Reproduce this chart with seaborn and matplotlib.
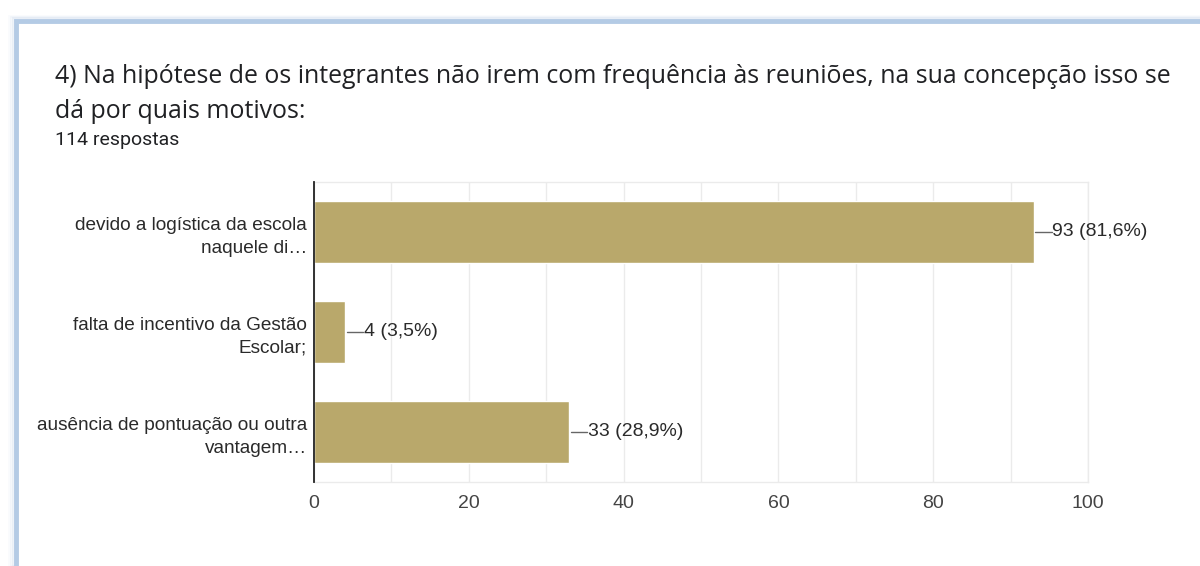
import matplotlib
matplotlib.use("Agg")
import matplotlib.pyplot as plt
from matplotlib.patches import Rectangle
from matplotlib.ticker import MultipleLocator
import seaborn as sns

categories = [
    "devido a logística da escola\nnaquele di…",
    "falta de incentivo da Gestão\nEscolar;",
    "ausência de pontuação ou outra\nvantagem…",
]
values = [93, 4, 33]
total_respostas = 114
x_ticks = [0, 20, 40, 60, 80, 100]

title = "4) Na hipótese de os integrantes não irem com frequência às reuniões, na sua concepção isso se\ndá por quais motivos:"
subtitle = "114 respostas"

sns.set_theme(style="white")
plt.rcParams["font.family"] = ["Liberation Sans", "DejaVu Sans"]

fig = plt.figure(figsize=(12, 5.66), dpi=100)

# card frame with soft shadow
for i, a in enumerate([0.10, 0.18, 0.30]):
    off = (3 - i) * 0.0025
    fig.patches.append(Rectangle((0.012 - off * 0.6, 0.0), 1.2, 0.965 + off,
                                 transform=fig.transFigure, facecolor="none",
                                 edgecolor="#c9d9ec", alpha=a, lw=2, zorder=-20))
fig.patches.append(Rectangle((0.0135, -0.05), 1.2, 1.013,
                             transform=fig.transFigure, facecolor="white",
                             edgecolor="#b4cbe5", lw=3.5, zorder=-10))

fig.text(55 / 1200, 1 - 64 / 566, title, fontsize=17.9, color="#202124",
         family=["Open Sans", "DejaVu Sans"], va="top", ha="left",
         linespacing=1.5)
fig.text(55 / 1200, 1 - 140 / 566, subtitle, fontsize=14, color="#202124",
         family=["Roboto", "DejaVu Sans"], va="center", ha="left")

ax = fig.add_axes([314 / 1200, 1 - 482 / 566, (1088 - 314) / 1200, 300 / 566])
sns.barplot(x=values, y=categories, orient="h", color="#b9a86b",
            saturation=1, width=0.62, ax=ax, zorder=3)

ax.set_xlim(0, 100)
ax.set_ylim(2.5, -0.5)
ax.set_xticks(x_ticks)
ax.xaxis.set_minor_locator(MultipleLocator(10))
ax.grid(True, axis="x", which="both", color="#ebebeb", lw=1, zorder=0)
ax.set_axisbelow(True)
ax.set_xlabel("")
ax.set_ylabel("")

for s in ["top", "right", "bottom"]:
    ax.spines[s].set_color("#ebebeb")
    ax.spines[s].set_linewidth(1)
ax.spines["left"].set_color("#222222")
ax.spines["left"].set_linewidth(1.3)
ax.spines["left"].set_zorder(5)

ax.tick_params(axis="both", length=0)
ax.tick_params(axis="x", pad=9, labelsize=14, labelcolor="#444444")
ax.tick_params(axis="y", pad=5, labelsize=13.7, labelcolor="#2a2a2a")
for lbl in ax.get_yticklabels():
    lbl.set_ha("right")
    lbl.set_multialignment("right")
    lbl.set_linespacing(1.45)

for i, v in enumerate(values):
    pct = f"{v / total_respostas * 100:.1f}".replace(".", ",")
    ax.plot([v + 0.2, v + 2.3], [i, i], color="#666666", lw=1, zorder=4,
            clip_on=False)
    ax.text(v + 2.4, i, f"{v} ({pct}%)", va="center", ha="left",
            fontsize=14, color="#2a2a2a", clip_on=False)

fig.savefig("out.png", dpi=100)
